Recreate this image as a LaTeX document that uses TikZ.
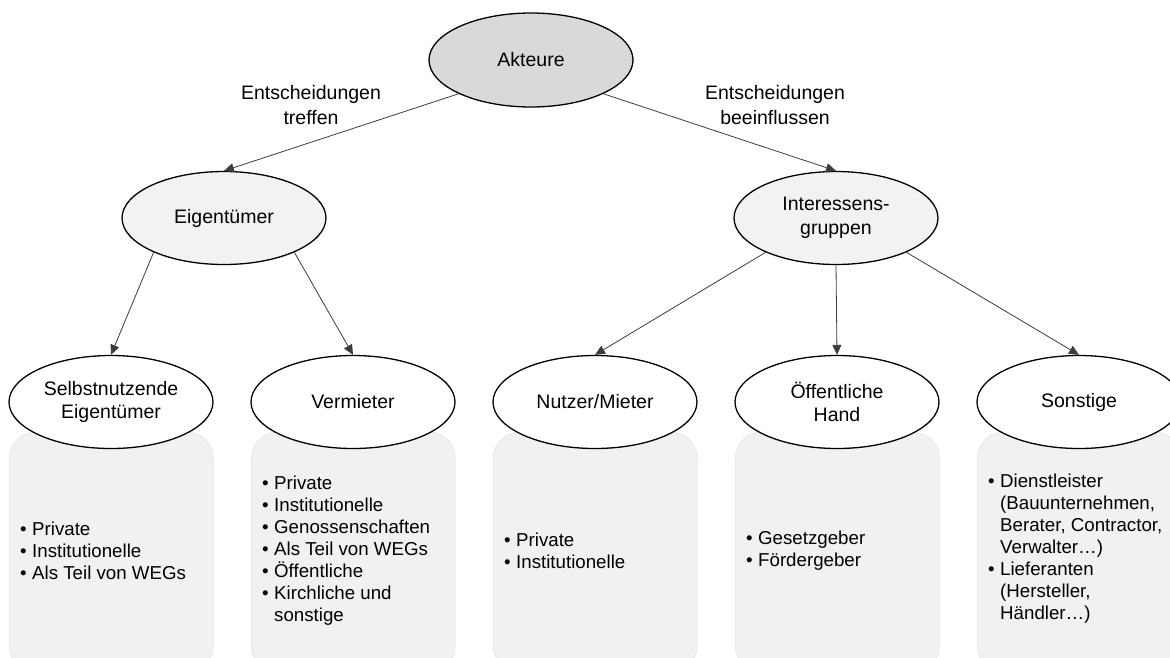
\documentclass[tikz,border=0pt]{standalone}
\usepackage{fontspec}
\setmainfont{Liberation Sans}
\usetikzlibrary{shapes.geometric,arrows.meta}
\definecolor{topfill}{RGB}{217,217,217}
\definecolor{midfill}{RGB}{242,242,242}
\definecolor{boxfill}{RGB}{241,241,241}
\definecolor{boxedge}{RGB}{228,228,228}
\definecolor{linecol}{RGB}{60,60,60}
\newcommand{\bul}{\makebox[12pt][l]{\textbullet}}
\newcommand{\ind}{\hspace*{12pt}}
\begin{document}
\begin{tikzpicture}[x=1pt,y=-1pt,
  oval/.style={ellipse, draw=black, line width=1.3pt, minimum width=204pt, minimum height=93pt, inner sep=0pt, align=center, font=\fontsize{19.5}{23.5}\selectfont},
  infobox/.style={rectangle, draw=boxedge, fill=boxfill, rounded corners=26pt, line width=0.6pt, minimum width=204pt, minimum height=240pt, anchor=north west},
  listtext/.style={anchor=west, align=left, inner sep=0pt, font=\fontsize{18.7}{22}\selectfont},
  conn/.style={draw=linecol, line width=0.8pt, -{Triangle[length=10pt,width=9pt]}},
  lbl/.style={align=center, font=\fontsize{19.5}{25}\selectfont}]
\useasboundingbox (0,0) rectangle (1170,657);
% boxes
\node[infobox] (b1) at (9,432) {};
\node[infobox] (b2) at (251,432) {};
\node[infobox] (b3) at (493,432) {};
\node[infobox] (b4) at (735,432) {};
\node[infobox] (b5) at (977,432) {};
% box texts
\node[listtext] (t1) at (20,551) {\bul Private\\\bul Institutionelle\\\bul Als Teil von WEGs};
\node[listtext] (t2) at (262,551) {\bul Private\\\bul Institutionelle\\\bul Genossenschaften\\\bul Als Teil von WEGs\\\bul Öffentliche\\\bul Kirchliche und\\\ind sonstige};
\node[listtext] (t3) at (504,551) {\bul Private\\\bul Institutionelle};
\node[listtext] (t4) at (746,551) {\bul Gesetzgeber\\\bul Fördergeber};
\node[listtext] (t5) at (988,549) {\bul Dienstleister\\\ind (Bauunternehmen,\\\ind Berater, Contractor,\\\ind Verwalter…)\\\bul Lieferanten\\\ind (Hersteller,\\\ind Händler…)};
% ellipses
\node[oval, fill=topfill, minimum height=94pt] (akt) at (531,60) {Akteure};
\node[oval, fill=midfill] (eig) at (224,218) {Eigentümer};
\node[oval, fill=midfill] (int) at (836,218) {Interessens-\\gruppen};
\node[oval, fill=white] (sel) at (111,402) {Selbstnutzende\\Eigentümer};
\node[oval, fill=white] (ver) at (353,402) {Vermieter};
\node[oval, fill=white] (nut) at (595,402) {Nutzer/Mieter};
\node[oval, fill=white] (oef) at (837,402) {Öffentliche\\Hand};
\node[oval, fill=white] (son) at (1079,402) {Sonstige};
% labels
\node[lbl] (l1) at (311,105) {Entscheidungen\\treffen};
\node[lbl] (l2) at (775,105) {Entscheidungen\\beeinflussen};
% connectors
\draw[conn] (akt.205) -- (eig.north);
\draw[conn] (akt.335) -- (int.north);
\draw[conn] (eig.206) -- (sel.north);
\draw[conn] (eig.334) -- (ver.north);
\draw[conn] (int.206) -- (nut.north);
\draw[conn] (int.south) -- (oef.north);
\draw[conn] (int.334) -- (son.north);
\end{tikzpicture}
\end{document}
